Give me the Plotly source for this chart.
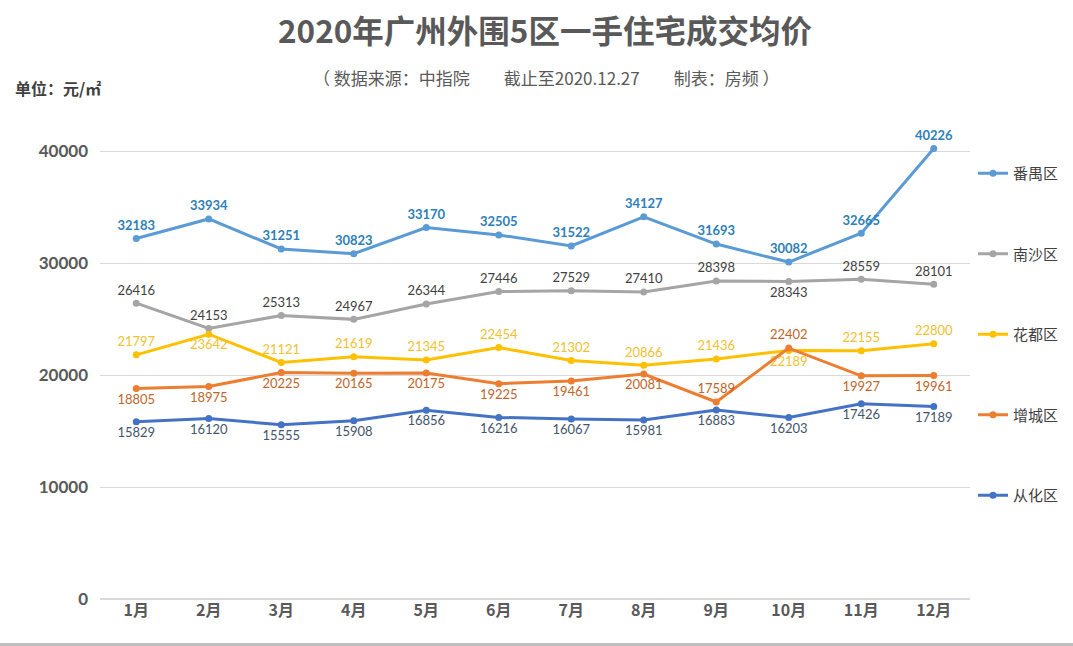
import plotly.graph_objects as go

months = ["1月", "2月", "3月", "4月", "5月", "6月", "7月", "8月", "9月", "10月", "11月", "12月"]
panyu = [32183, 33934, 31251, 30823, 33170, 32505, 31522, 34127, 31693, 30082, 32665, 40226]
nansha = [26416, 24153, 25313, 24967, 26344, 27446, 27529, 27410, 28398, 28343, 28559, 28101]
huadu = [21797, 23642, 21121, 21619, 21345, 22454, 21302, 20866, 21436, 22189, 22155, 22800]
zengcheng = [18805, 18975, 20225, 20165, 20175, 19225, 19461, 20081, 17589, 22402, 19927, 19961]
conghua = [15829, 16120, 15555, 15908, 16856, 16216, 16067, 15981, 16883, 16203, 17426, 17189]
yticks = [0, 10000, 20000, 30000, 40000]
yticktext = ["0", "10000", "20000", "30000", "40000"]

T, B = "top center", "bottom center"
series = [
    ("番禺区", panyu, "#5B9BD5", "#2E80B8", True, [T] * 12),
    ("南沙区", nansha, "#A5A5A5", "#404040", False, [T] * 9 + [B] + [T] * 2),
    ("花都区", huadu, "#FFC000", "#F2C12E", False, [T, B] + [T] * 7 + [B] + [T] * 2),
    ("增城区", zengcheng, "#ED7D31", "#C0652A", False, [B] * 8 + [T, T, B, B]),
    ("从化区", conghua, "#4472C4", "#44546A", False, [B] * 12),
]

num_font = "Lato, 'Noto Sans CJK SC', sans-serif"
cjk_font = "'Noto Sans CJK SC', sans-serif"

# geometry (pixels)
W, Hfig = 1073, 646
L, R = 100, 970
TOP, BOT = 140, 599
PH = BOT - TOP
ytop = 40000 * PH / (BOT - 151)


def py(p):
    return (BOT - p) / PH


def px(p):
    return (p - L) / (R - L)


fig = go.Figure()
for i, (name, vals, lc, tc, bold, pos) in enumerate(series):
    fig.add_trace(go.Scatter(
        x=months, y=vals, name=name, mode="lines+markers+text",
        line=dict(color=lc, width=3), marker=dict(color=lc, size=7),
        text=[f"<b>{v}</b>" if bold else str(v) for v in vals],
        textposition=pos,
        textfont=dict(color=tc, size=13, family=num_font),
        legendgroup=name, cliponaxis=False,
    ))

fig.update_layout(
    width=W, height=Hfig,
    margin=dict(l=L, r=W - R, t=TOP, b=Hfig - BOT, autoexpand=False),
    paper_bgcolor="white", plot_bgcolor="white",
    title=dict(text="<b>2020年广州外围5区一手住宅成交均价</b>", x=545 / W, xanchor="center",
               y=1 - 32 / Hfig, yanchor="middle",
               font=dict(size=31.5, color="#595959", family=cjk_font)),
    legend=dict(x=px(973), xanchor="left", y=py(157), yanchor="top",
                font=dict(size=15, color="#404040", family=cjk_font),
                tracegroupgap=58, itemwidth=30),
    showlegend=True,
    xaxis=dict(range=[-0.5, 11.5], showgrid=False, showline=False, ticks="",
               tickfont=dict(size=16, color="#595959", family=cjk_font),
               tickprefix="<b>", ticksuffix="</b>"),
    yaxis=dict(range=[0, ytop], tickvals=yticks, ticktext=[f"<b>{t}</b>" for t in yticktext],
               showgrid=True, gridcolor="#D9D9D9",
               gridwidth=1, zeroline=True, zerolinecolor="#D9D9D9", showline=False,
               tickfont=dict(size=17, color="#595959", family=num_font),
               ticklabelstandoff=11),
    annotations=[
        dict(text="（ 数据来源：中指院　　截止至2020.12.27　　制表：房频 ）", xref="paper", yref="paper",
             x=px(546), y=py(78), xanchor="center", yanchor="middle",
             showarrow=False, font=dict(size=17, color="#595959", family=cjk_font)),
        dict(text="<b>单位：元/㎡</b>", xref="paper", yref="paper",
             x=px(13), y=py(88), xanchor="left", yanchor="middle",
             showarrow=False, font=dict(size=16, color="#404040", family=cjk_font)),
    ],
    shapes=[dict(type="rect", xref="paper", yref="paper", x0=-0.2, x1=1.2,
                 y0=py(646), y1=py(643),
                 fillcolor="#BFBFBF", line=dict(width=0))],
)

fig.write_html("out.html", config={"displayModeBar": False},
               post_script="document.body.style.margin='0';")
